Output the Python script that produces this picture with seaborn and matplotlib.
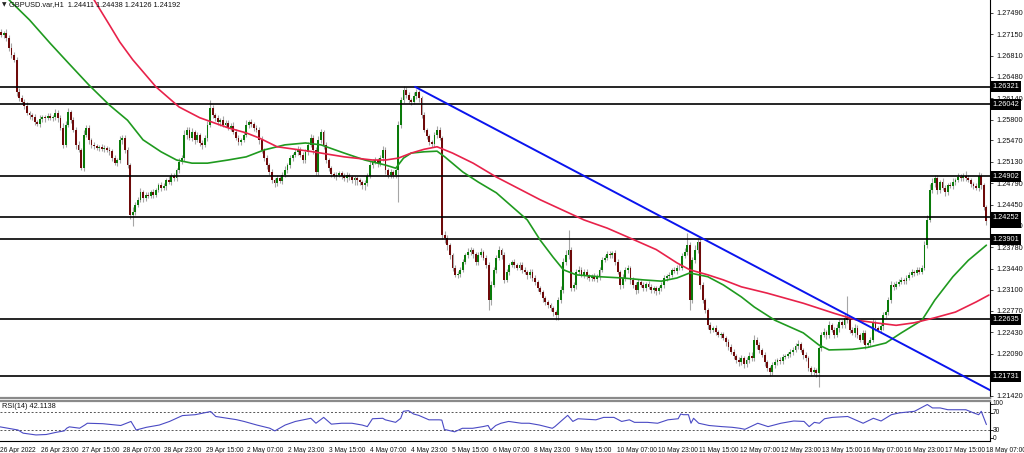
import numpy as np
import pandas as pd
import matplotlib
matplotlib.use("Agg")
import matplotlib.pyplot as plt
import seaborn as sns

# ---------------- data ----------------
symbol_title = "GBPUSD.var,H1  1.24411 1.24438 1.24126 1.24192"
rsi_title = "RSI(14) 42.1138"

first_open = 1.2713
closes = [
    1.2716, 1.2719, 1.2714, 1.2717, 1.2709, 1.2694, 1.2682, 1.2675, 1.2624, 1.2614,
    1.2608, 1.2602, 1.2591, 1.2587, 1.2584, 1.2576, 1.2573, 1.2581, 1.2584, 1.2583,
    1.2586, 1.2583, 1.2584, 1.2591, 1.2583, 1.2567, 1.2540, 1.2572, 1.2592, 1.2579,
    1.2564, 1.2540, 1.2532, 1.2503, 1.2556, 1.2567, 1.2548, 1.2540, 1.2538, 1.2535,
    1.2537, 1.2533, 1.2535, 1.2532, 1.2530, 1.2519, 1.2511, 1.2516, 1.2548, 1.2551,
    1.2532, 1.2508, 1.2429, 1.2434, 1.2445, 1.2453, 1.2465, 1.2456, 1.2461, 1.2459,
    1.2465, 1.2461, 1.2469, 1.2476, 1.2472, 1.2475, 1.2484, 1.2481, 1.2491, 1.2488,
    1.2500, 1.2513, 1.2519, 1.2556, 1.2564, 1.2551, 1.2560, 1.2548, 1.2556, 1.2543,
    1.2540, 1.2551, 1.2572, 1.2598, 1.2587, 1.2583, 1.2576, 1.2579, 1.2572, 1.2575,
    1.2567, 1.2570, 1.2560, 1.2551, 1.2545, 1.2548, 1.2556, 1.2572, 1.2576, 1.2573,
    1.2567, 1.2564, 1.2548, 1.2532, 1.2519, 1.2508, 1.2497, 1.2484, 1.2480, 1.2487,
    1.2483, 1.2492, 1.2500, 1.2508, 1.2519, 1.2524, 1.2529, 1.2532, 1.2524, 1.2516,
    1.2529, 1.2540, 1.2551, 1.2532, 1.2497, 1.2548, 1.2560, 1.2540, 1.2516, 1.2503,
    1.2494, 1.2491, 1.2492, 1.2495, 1.2491, 1.2487, 1.2492, 1.2489, 1.2484, 1.2487,
    1.2484, 1.2481, 1.2476, 1.2480, 1.2491, 1.2508, 1.2513, 1.2516, 1.2511, 1.2519,
    1.2532, 1.2500, 1.2492, 1.2497, 1.2492, 1.2500, 1.2572, 1.2611, 1.2627, 1.2619,
    1.2611, 1.2608, 1.2617, 1.2624, 1.2614, 1.2587, 1.2564, 1.2554, 1.2545, 1.2541,
    1.2556, 1.2564, 1.2551, 1.2397, 1.2392, 1.2381, 1.2365, 1.2345, 1.2334, 1.2335,
    1.2342, 1.2354, 1.2365, 1.2370, 1.2373, 1.2367, 1.2354, 1.2365, 1.2370, 1.2361,
    1.2350, 1.2294, 1.2318, 1.2342, 1.2361, 1.2373, 1.2365, 1.2326, 1.2339, 1.2350,
    1.2354, 1.2350, 1.2345, 1.2350, 1.2342, 1.2339, 1.2334, 1.2339, 1.2329, 1.2323,
    1.2313, 1.2307, 1.2297, 1.2291, 1.2286, 1.2281, 1.2275, 1.2270, 1.2294, 1.2310,
    1.2354, 1.2365, 1.2373, 1.2313, 1.2318, 1.2339, 1.2342, 1.2334, 1.2339, 1.2332,
    1.2329, 1.2332, 1.2327, 1.2331, 1.2342, 1.2357, 1.2361, 1.2367, 1.2365, 1.2369,
    1.2354, 1.2339, 1.2318, 1.2329, 1.2342, 1.2345, 1.2326, 1.2318, 1.2310, 1.2323,
    1.2318, 1.2313, 1.2319, 1.2315, 1.2310, 1.2313, 1.2308, 1.2313, 1.2318, 1.2329,
    1.2332, 1.2334, 1.2342, 1.2340, 1.2345, 1.2345, 1.2364, 1.2370, 1.2381, 1.2294,
    1.2357, 1.2373, 1.2386, 1.2318, 1.2294, 1.2278, 1.2254, 1.2247, 1.2250, 1.2243,
    1.2239, 1.2240, 1.2234, 1.2228, 1.2220, 1.2212, 1.2205, 1.2199, 1.2196, 1.2202,
    1.2193, 1.2199, 1.2205, 1.2202, 1.2231, 1.2223, 1.2215, 1.2207, 1.2196, 1.2186,
    1.2180, 1.2191, 1.2196, 1.2199, 1.2197, 1.2204, 1.2205, 1.2208, 1.2212, 1.2215,
    1.2221, 1.2224, 1.2215, 1.2207, 1.2202, 1.2186, 1.2180, 1.2183, 1.2178, 1.2218,
    1.2239, 1.2243, 1.2239, 1.2254, 1.2247, 1.2239, 1.2250, 1.2259, 1.2254, 1.2266,
    1.2262, 1.2247, 1.2242, 1.2250, 1.2239, 1.2231, 1.2242, 1.2223, 1.2226, 1.2231,
    1.2259, 1.2250, 1.2247, 1.2253, 1.2270, 1.2275, 1.2294, 1.2318, 1.2315, 1.2320,
    1.2323, 1.2326, 1.2324, 1.2329, 1.2334, 1.2339, 1.2337, 1.2342, 1.2339, 1.2345,
    1.2381, 1.2421, 1.2469, 1.2480, 1.2487, 1.2469, 1.2481, 1.2472, 1.2465, 1.2476,
    1.2475, 1.2481, 1.2484, 1.2489, 1.2487, 1.2491, 1.2487, 1.2484, 1.2478, 1.2475,
    1.2472, 1.2491, 1.2476, 1.24411, 1.24192,
]

# upper / lower shadow length of every candle, in pips
wick_up_pips = [
    4, 3, 5, 4, 6, 5, 7, 5, 4, 6,
    5, 4, 6, 3, 4, 5, 4, 6, 3, 4,
    5, 4, 3, 6, 4, 5, 8, 6, 7, 4,
    5, 4, 6, 3, 7, 4, 5, 3, 4, 4,
    3, 4, 5, 3, 4, 4, 5, 3, 6, 5,
    4, 5, 3, 7, 4, 5, 6, 4, 5, 4,
    4, 5, 3, 4, 5, 4, 3, 6, 4, 5,
    4, 6, 5, 7, 4, 5, 6, 4, 5, 3,
    4, 5, 6, 13, 5, 4, 5, 4, 6, 4,
    5, 4, 6, 5, 4, 3, 5, 7, 4, 5,
    4, 5, 4, 6, 3, 5, 4, 5, 4, 6,
    4, 5, 6, 4, 5, 3, 4, 6, 5, 4,
    5, 4, 7, 5, 4, 6, 5, 4, 5, 3,
    4, 3, 5, 4, 3, 4, 5, 3, 4, 4,
    3, 4, 3, 4, 5, 6, 4, 5, 3, 5,
    6, 4, 3, 4, 3, 4, 6, 5, 7, 4,
    5, 4, 6, 5, 3, 4, 5, 3, 4, 3,
    5, 6, 4, 3, 6, 5, 4, 3, 4, 5,
    4, 5, 4, 6, 5, 4, 3, 5, 6, 4,
    4, 5, 6, 4, 5, 7, 4, 5, 4, 3,
    4, 5, 3, 4, 5, 4, 3, 4, 5, 4,
    3, 4, 3, 4, 3, 4, 3, 4, 5, 6,
    6, 8, 32, 5, 4, 5, 6, 4, 5, 4,
    3, 4, 5, 4, 5, 6, 4, 5, 4, 3,
    4, 5, 3, 6, 5, 4, 3, 4, 5, 4,
    3, 4, 3, 5, 4, 3, 4, 3, 4, 5,
    4, 5, 3, 4, 5, 6, 5, 7, 19, 5,
    6, 8, 7, 5, 4, 3, 4, 5, 3, 4,
    4, 3, 4, 3, 4, 5, 4, 3, 4, 5,
    4, 5, 6, 7, 8, 5, 4, 3, 4, 3,
    4, 5, 4, 3, 4, 5, 4, 3, 4, 5,
    5, 6, 4, 3, 4, 3, 4, 5, 3, 4,
    5, 6, 4, 7, 4, 5, 6, 5, 4, 6,
    35, 5, 4, 6, 4, 3, 5, 4, 3, 5,
    5, 4, 3, 4, 5, 4, 5, 6, 4, 5,
    4, 5, 3, 4, 5, 4, 3, 4, 5, 4,
    6, 8, 9, 7, 6, 5, 4, 6, 5, 4,
    5, 6, 4, 7, 5, 4, 8, 5, 4, 3,
    4, 6, 5, 3, 3,
]
wick_dn_pips = [
    4, 5, 3, 4, 5, 6, 5, 4, 6, 5,
    4, 5, 3, 6, 4, 5, 3, 4, 5, 6,
    3, 4, 5, 4, 6, 4, 5, 3, 4, 5,
    4, 6, 4, 3, 5, 4, 6, 5, 4, 3,
    4, 3, 5, 4, 6, 5, 3, 4, 5, 6,
    5, 4, 6, 18, 5, 4, 3, 6, 5, 4,
    4, 5, 4, 3, 5, 4, 6, 3, 4, 5,
    5, 4, 3, 5, 6, 4, 5, 6, 4, 5,
    6, 4, 5, 3, 4, 5, 4, 6, 3, 4,
    4, 5, 3, 4, 6, 5, 4, 3, 5, 4,
    5, 4, 6, 5, 4, 6, 5, 4, 7, 5,
    4, 5, 3, 4, 5, 4, 3, 5, 4, 5,
    4, 5, 3, 6, 5, 4, 5, 6, 4, 5,
    5, 4, 6, 3, 5, 4, 6, 5, 4, 7,
    8, 5, 6, 7, 5, 4, 5, 4, 6, 5,
    5, 6, 4, 5, 4, 5, 50, 5, 4, 5,
    4, 5, 3, 4, 6, 5, 4, 5, 6, 4,
    4, 5, 4, 6, 8, 7, 6, 5, 4, 5,
    5, 4, 3, 5, 4, 6, 5, 4, 3, 4,
    5, 16, 8, 4, 5, 4, 6, 5, 4, 5,
    4, 5, 4, 3, 5, 4, 6, 5, 4, 5,
    5, 4, 6, 5, 4, 5, 6, 7, 8, 5,
    4, 5, 6, 5, 4, 6, 5, 4, 5, 4,
    4, 5, 3, 4, 5, 4, 3, 4, 5, 4,
    5, 4, 6, 5, 4, 5, 6, 5, 7, 5,
    4, 5, 4, 3, 5, 4, 6, 5, 4, 5,
    4, 5, 4, 3, 5, 4, 3, 4, 5, 16,
    5, 4, 5, 6, 5, 4, 6, 5, 4, 5,
    4, 5, 4, 6, 5, 4, 5, 4, 6, 5,
    6, 5, 4, 5, 4, 6, 5, 4, 6, 5,
    7, 5, 4, 5, 4, 5, 4, 3, 4, 5,
    4, 5, 4, 6, 5, 4, 7, 5, 6, 22,
    5, 4, 6, 5, 4, 5, 4, 6, 5, 4,
    4, 5, 4, 6, 5, 4, 5, 6, 4, 5,
    4, 5, 4, 5, 6, 4, 5, 4, 5, 4,
    3, 4, 5, 4, 3, 4, 5, 4, 3, 4,
    4, 5, 4, 5, 6, 7, 5, 4, 6, 5,
    4, 5, 4, 3, 4, 5, 4, 3, 4, 5,
    4, 5, 6, 4, 7,
]

# moving averages (bar index, price)
green_ma_bar = [5, 13, 21, 28, 36, 44, 51, 57, 64, 70, 76, 82, 90, 97, 104, 112, 120, 126,
                135, 143, 151, 155, 158, 161, 166, 171, 174, 181, 187, 194, 206, 211, 216,
                220, 225, 234, 243, 251, 258, 264, 269, 276, 282, 289, 294, 302, 313, 319,
                323, 332, 338, 345, 351, 359, 364, 371, 377, 384]
green_ma_val = [1.2770, 1.2738, 1.2701, 1.2670, 1.2635, 1.2603, 1.2579, 1.2548, 1.2529, 1.2516,
                1.2511, 1.2511, 1.2516, 1.2521, 1.2532, 1.2540, 1.2543, 1.2540, 1.2527, 1.2516,
                1.2508, 1.2503, 1.2519, 1.2527, 1.2529, 1.2530, 1.2521, 1.2497, 1.2481, 1.2464,
                1.2421, 1.2389, 1.2362, 1.2342, 1.2334, 1.2331, 1.2329, 1.2326, 1.2324, 1.2329,
                1.2337, 1.2331, 1.2318, 1.2299, 1.2283, 1.2262, 1.2242, 1.2223, 1.2215, 1.2216,
                1.2219, 1.2226, 1.2242, 1.2262, 1.2294, 1.2331, 1.2357, 1.2381]
red_ma_bar = [38, 44, 48, 53, 62, 71, 79, 90, 97, 102, 109, 123, 135, 146, 151, 156, 161,
              166, 171, 177, 185, 194, 211, 228, 237, 246, 256, 264, 269, 276, 282, 289,
              299, 313, 325, 334, 341, 349, 356, 364, 372, 380, 385]
red_ma_val = [1.2770, 1.2730, 1.2703, 1.2675, 1.2632, 1.2600, 1.2583, 1.2567, 1.2559, 1.2551,
              1.2537, 1.2529, 1.2521, 1.2516, 1.2516, 1.2519, 1.2527, 1.2533, 1.2537, 1.2527,
              1.2511, 1.2489, 1.2453, 1.2421, 1.2408, 1.2392, 1.2374, 1.2353, 1.2342, 1.2334,
              1.2326, 1.2315, 1.2305, 1.2289, 1.2273, 1.2262, 1.2258, 1.2254, 1.2258, 1.2266,
              1.2275, 1.2291, 1.2302]

trend_bar = [162.5, 386.0]
trend_val = [1.2632, 1.2150]

levels = [1.26321, 1.26042, 1.24902, 1.24252, 1.23901, 1.22635, 1.21731]
current_price = 1.24192
price_ticks = [1.27490, 1.27150, 1.26810, 1.26480, 1.26140, 1.25800, 1.25470, 1.25130,
               1.24790, 1.24450, 1.24120, 1.23780, 1.23440, 1.23100, 1.22770, 1.22430,
               1.22090, 1.21420]

rsi_bar = [0, 7, 9, 14, 18, 22, 25, 26, 27, 31, 33, 34, 40, 47, 51, 53, 57, 62, 66, 71,
           76, 82, 84, 92, 95, 100, 105, 107, 111, 115, 121, 123, 126, 129, 133, 137, 141, 143, 145, 149,
           150, 154, 156, 157, 159, 161, 163, 167, 171, 172, 173, 174, 177, 180, 184, 188, 190, 191, 193, 195,
           198, 203, 206, 210, 215, 216, 219, 221, 223, 225, 232, 235, 239, 242, 245, 247, 252, 256, 260, 264,
           265, 266, 268, 269, 270, 272, 276, 281, 285, 288, 290, 295, 299, 304, 309, 313, 315, 317, 319, 321,
           324, 330, 334, 336, 340, 343, 347, 350, 356, 361, 363, 366, 369, 376, 379, 381, 382, 384]
rsi_val = [37, 30, 23, 19, 20, 25, 28, 34, 37, 34, 41, 45, 44, 40, 49, 30, 36, 41, 49, 62,
           64, 71, 60, 53, 49, 41, 34, 28, 41, 49, 56, 45, 58, 43, 45, 45, 41, 37.5, 55, 56,
           52.6, 47, 56, 71.5, 73, 65.5, 62.5, 52.6, 52.6, 52, 31, 30, 26, 33.8, 33.8, 37.5, 40, 30, 40, 45,
           49, 45, 45, 41, 33.8, 37.5, 52.6, 62.5, 49, 55, 52.6, 58, 58, 49, 52.6, 47, 47, 45, 52.6, 55,
           65.5, 64, 64, 45, 56, 45, 40, 37.5, 36, 33.8, 31.5, 45, 37.5, 45, 50, 49, 37.5, 47, 45, 55,
           58, 60, 50, 45, 56, 50, 64, 67.9, 71.5, 86.6, 79, 79, 75, 75, 68, 64, 71.5, 42.1]
rsi_levels = [70, 30]
rsi_scale_labels = ["100", "70", "30", "0"]

time_tick_bars = [0, 16, 32, 48, 64, 80, 96, 112, 128, 144, 160, 176, 192, 208, 224, 240,
                  256, 272, 288, 304, 320, 336, 352, 368, 384]
time_labels = ["26 Apr 2022", "26 Apr 23:00", "27 Apr 15:00", "28 Apr 07:00", "28 Apr 23:00",
               "29 Apr 15:00", "2 May 07:00", "2 May 23:00", "3 May 15:00", "4 May 07:00",
               "4 May 23:00", "5 May 15:00", "6 May 07:00", "8 May 23:00", "9 May 15:00",
               "10 May 07:00", "10 May 23:00", "11 May 15:00", "12 May 07:00", "12 May 23:00",
               "13 May 15:00", "16 May 07:00", "16 May 23:00", "17 May 15:00", "18 May 07:00"]

# ---------------- build OHLC table ----------------
opens = [first_open] + closes[:-1]   # hourly FX bars open at the previous close
df = pd.DataFrame({"bar": np.arange(len(closes)), "open": opens, "close": closes,
                   "wu": np.array(wick_up_pips) * 1e-4, "wd": np.array(wick_dn_pips) * 1e-4})
df["top"] = df[["open", "close"]].max(axis=1)
df["bot"] = df[["open", "close"]].min(axis=1)
df["high"] = df["top"] + df["wu"]
df["low"] = df["bot"] - df["wd"]
df["up"] = df["close"] >= df["open"]

# ---------------- figure ----------------
sns.set_style("white")
plt.rcParams["font.family"] = ["Liberation Sans", "DejaVu Sans"]
W, H = 1024, 453
fig = plt.figure(figsize=(W / 100, H / 100), dpi=100)
fig.patch.set_facecolor("white")
AX_R = 990
ax = fig.add_axes([0, (H - 398) / H, AX_R / W, 398 / H])
axr = fig.add_axes([0, (H - 441) / H, AX_R / W, 40 / H])

XLIM = (1.55, 385.4)
FS = 5.3
FSX = 4.75

# candles
ax.vlines(df["bar"], df["low"], df["high"], color="#a6a6a6", lw=0.8, zorder=2)
body_h = np.maximum(df["top"] - df["bot"], 0.00004)
ax.bar(df["bar"], body_h, bottom=df["bot"], width=0.72,
       color=np.where(df["up"], "#0a7a0a", "#6e0a0a"), lw=0, zorder=3)

# moving averages and trend line
sns.lineplot(x=green_ma_bar, y=green_ma_val, ax=ax, color="#1f9a1f", lw=1.2, zorder=5)
sns.lineplot(x=red_ma_bar, y=red_ma_val, ax=ax, color="#e8224a", lw=1.2, zorder=5)
sns.lineplot(x=trend_bar, y=trend_val, ax=ax, color="#0a14ee", lw=1.4, zorder=6)

# horizontal levels
for lv in levels:
    ax.axhline(lv, color="black", lw=1.2, zorder=4)

ax.set_xlim(*XLIM)
ax.set_ylim(1.21388, 1.27696)
ax.set_xticks([])
ax.yaxis.tick_right()
ax.set_yticks(price_ticks)
ax.set_yticklabels([f"{v:.5f}" for v in price_ticks], fontsize=FS, color="#111111")
ax.tick_params(axis="y", length=2.5, width=0.6, pad=2)
ax.set_xlabel("")
ax.set_ylabel("")
for s in ("left", "top"):
    ax.spines[s].set_visible(False)
ax.spines["right"].set_color("black")
ax.spines["right"].set_linewidth(0.8)
ax.spines["bottom"].set_color("#8a8a8a")
ax.spines["bottom"].set_linewidth(1.6)

ytr = ax.get_yaxis_transform()
box = dict(boxstyle="square,pad=0.3", fc="black", ec="none")
ax.text(992.5 / AX_R, current_price - 0.00012, f"{current_price:.5f}", transform=ytr, ha="left",
        va="center", fontsize=FS, color="white", bbox=box, clip_on=False, zorder=9)
for lv in levels:
    ax.text(992.5 / AX_R, lv, f"{lv:.5f}", transform=ytr, ha="left", va="center",
            fontsize=FS, color="white", bbox=box, clip_on=False, zorder=10)

# RSI panel
sns.lineplot(x=rsi_bar, y=rsi_val, ax=axr, color="#4a4ac4", lw=0.8, zorder=4)
for lv in rsi_levels:
    axr.axhline(lv, color="#555555", lw=0.7, ls=(0, (2, 2)), zorder=3)
axr.set_xlim(*XLIM)
axr.set_ylim(5.56, 94.4)
axr.set_yticks([])
axr.set_xlabel("")
axr.set_ylabel("")
axr.set_xticks(time_tick_bars)
axr.set_xticklabels(time_labels, fontsize=FSX, ha="left", color="#111111")
axr.tick_params(axis="x", length=3, width=0.6, pad=1.5)
axr.spines["left"].set_visible(False)
axr.spines["top"].set_color("#8a8a8a")
axr.spines["top"].set_linewidth(1.6)
axr.spines["bottom"].set_color("black")
axr.spines["bottom"].set_linewidth(0.8)
axr.spines["right"].set_color("black")
axr.spines["right"].set_linewidth(0.8)
for lab, yfrac in zip(rsi_scale_labels, [0.93, 0.70, 0.27, 0.07]):
    axr.text(993 / AX_R, yfrac, lab, transform=axr.transAxes, ha="left", va="center",
             fontsize=FSX, color="#111111", clip_on=False)
    axr.plot([1.0, 1.0 + 2.5 / AX_R], [yfrac, yfrac], transform=axr.transAxes,
             color="black", lw=0.6, clip_on=False)

# header texts
fig.text(2 / W, 1 - 5 / H, "\u25BC", fontsize=4.2, va="center", ha="left", color="#222222",
         family="DejaVu Sans")
fig.text(9 / W, 1 - 5 / H, symbol_title, fontsize=FS, va="center", ha="left", color="#111111")
fig.text(2 / W, 1 - 406 / H, rsi_title, fontsize=FS, va="center", ha="left", color="#111111")

fig.savefig("out.png", dpi=100, facecolor="white")
